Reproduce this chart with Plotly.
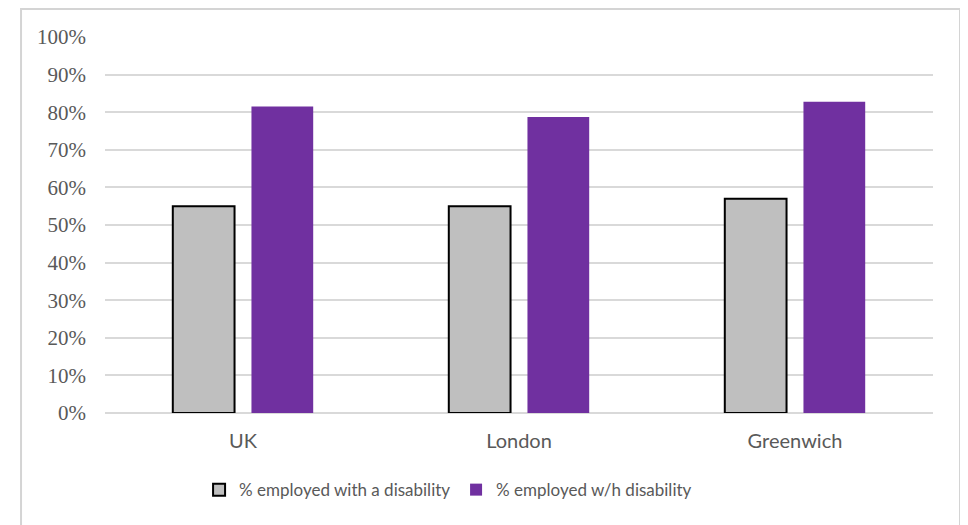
import plotly.graph_objects as go

categories = ["UK", "London", "Greenwich"]
with_disability = [0.55, 0.55, 0.57]
without_disability = [0.815, 0.787, 0.828]
y_ticks = [0, 0.1, 0.2, 0.3, 0.4, 0.5, 0.6, 0.7, 0.8, 0.9, 1.0]
y_tick_labels = ["0%", "10%", "20%", "30%", "40%", "50%", "60%", "70%", "80%", "90%", "100%"]

fig = go.Figure()
fig.add_trace(go.Bar(
    x=categories, y=with_disability, name="% employed with a disability",
    marker=dict(color="#bfbfbf", line=dict(color="#000000", width=2)),
))
fig.add_trace(go.Bar(
    x=categories, y=without_disability, name="% employed w/h disability",
    marker=dict(color="#7030a0", line=dict(width=0)),
))

fig.update_layout(
    width=960, height=517,
    margin=dict(l=97, r=35, t=29, b=112),
    paper_bgcolor="white", plot_bgcolor="white",
    barmode="group", bargap=0.43, bargroupgap=0.215,
    showlegend=True,
    legend=dict(orientation="h", x=0.424, xanchor="center", y=-0.205, yanchor="middle",
                font=dict(family="Lato, Open Sans, sans-serif", size=17, color="#595959"),
                itemwidth=30, entrywidth=212, tracegroupgap=0, traceorder="normal"),
    xaxis=dict(showgrid=False, showline=False, ticks="", ticklabelstandoff=14,
               tickfont=dict(family="Lato, Open Sans, sans-serif", size=20, color="#595959")),
    yaxis=dict(range=[0, 1.0], tickvals=y_ticks, ticktext=y_tick_labels,
               showgrid=True, gridcolor="#d9d9d9", gridwidth=1.5,
               zeroline=True, zerolinecolor="#d9d9d9", zerolinewidth=1.5,
               showline=False, ticks="", ticklabelstandoff=18,
               tickfont=dict(family="Liberation Serif, Times New Roman, serif", size=21, color="#595959")),
    shapes=[dict(type="rect", xref="paper", yref="paper",
                 x0=-0.1014, x1=1.0326, y0=-0.32, y1=1.0745,
                 line=dict(color="#d4d4d4", width=2), fillcolor="rgba(0,0,0,0)", layer="below")],
)

fig.write_html("out.html")
